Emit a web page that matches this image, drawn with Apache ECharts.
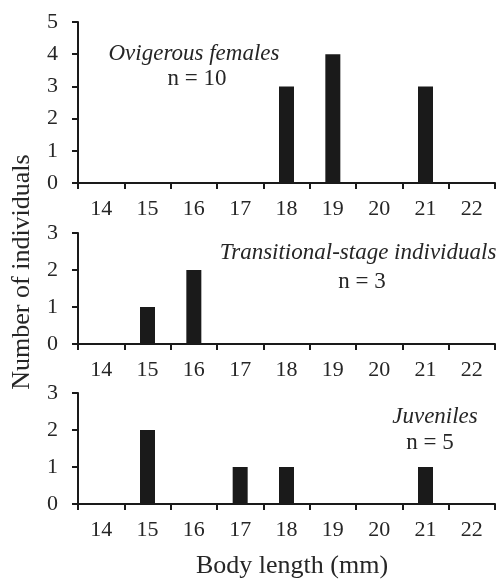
<!DOCTYPE html>
<html>
<head>
<meta charset="utf-8">
<title>Body length distribution</title>
<script src="https://cdn.jsdelivr.net/npm/echarts@6/dist/echarts.min.js"></script>
<style>
  html, body { margin: 0; padding: 0; background: #fff; }
  #main { width: 501px; height: 579px; }
</style>
</head>
<body>
<div id="main"></div>
<script type="text/javascript">
    // body length classes (mm)
    var lengths = ['14', '15', '16', '17', '18', '19', '20', '21', '22'];
    // number of individuals per class
    var ovigerous = [0, 0, 0, 0, 3, 4, 0, 3, 0];
    var transitional = [0, 1, 2, 0, 0, 0, 0, 0, 0];
    var juveniles = [0, 2, 0, 1, 1, 0, 0, 1, 0];
    var yMax = [5, 3, 3];

    var font = '"Liberation Serif", "Times New Roman", serif';
    var ink = '#1a1a1a';
    var textInk = '#262626';

    var grids = [
        { left: 78, right: 6, top: 22, height: 161 },
        { left: 78, right: 6, top: 233, height: 111 },
        { left: 78, right: 6, top: 393, height: 111 }
    ];

    function xAxis(i) {
        return {
            type: 'category',
            gridIndex: i,
            data: lengths,
            axisLine: { lineStyle: { color: ink, width: 2 } },
            axisTick: { show: true, length: 6, lineStyle: { color: ink, width: 2 } },
            axisLabel: { color: textInk, fontFamily: font, fontSize: 22, margin: 15 }
        };
    }

    function yAxis(i) {
        return {
            type: 'value',
            gridIndex: i,
            min: 0,
            max: yMax[i],
            interval: 1,
            splitLine: { show: false },
            axisLine: { show: true, lineStyle: { color: ink, width: 2 } },
            axisTick: { show: true, length: 6, lineStyle: { color: ink, width: 2 } },
            axisLabel: { color: textInk, fontFamily: font, fontSize: 22, margin: 20 }
        };
    }

    function bars(i, values) {
        return {
            type: 'bar',
            xAxisIndex: i,
            yAxisIndex: i,
            data: values,
            barWidth: 15,
            itemStyle: { color: ink },
            silent: true
        };
    }

    // text placed at its centre
    function note(text, x, y, size, italic, rotation) {
        return {
            type: 'text',
            x: x,
            y: y,
            rotation: rotation || 0,
            style: {
                text: text,
                fill: textInk,
                font: (italic ? 'italic ' : '') + size + 'px ' + font,
                textAlign: 'center',
                textVerticalAlign: 'middle'
            }
        };
    }

    var myChart = echarts.init(document.getElementById('main'), null, { renderer: 'canvas' });

    myChart.setOption({
        animation: false,
        grid: grids,
        xAxis: [xAxis(0), xAxis(1), xAxis(2)],
        yAxis: [yAxis(0), yAxis(1), yAxis(2)],
        series: [bars(0, ovigerous), bars(1, transitional), bars(2, juveniles)],
        graphic: [
            note('Ovigerous females', 194, 54, 23, true),
            note('n = 10', 197, 79, 23, false),
            note('Transitional-stage individuals', 358, 253, 23, true),
            note('n = 3', 362, 282, 23, false),
            note('Juveniles', 435, 417, 23, true),
            note('n = 5', 430, 443, 23, false),
            note('Body length (mm)', 292, 566, 26, false),
            note('Number of individuals', 22, 272, 26, false, Math.PI / 2)
        ]
    });
</script>
</body>
</html>
